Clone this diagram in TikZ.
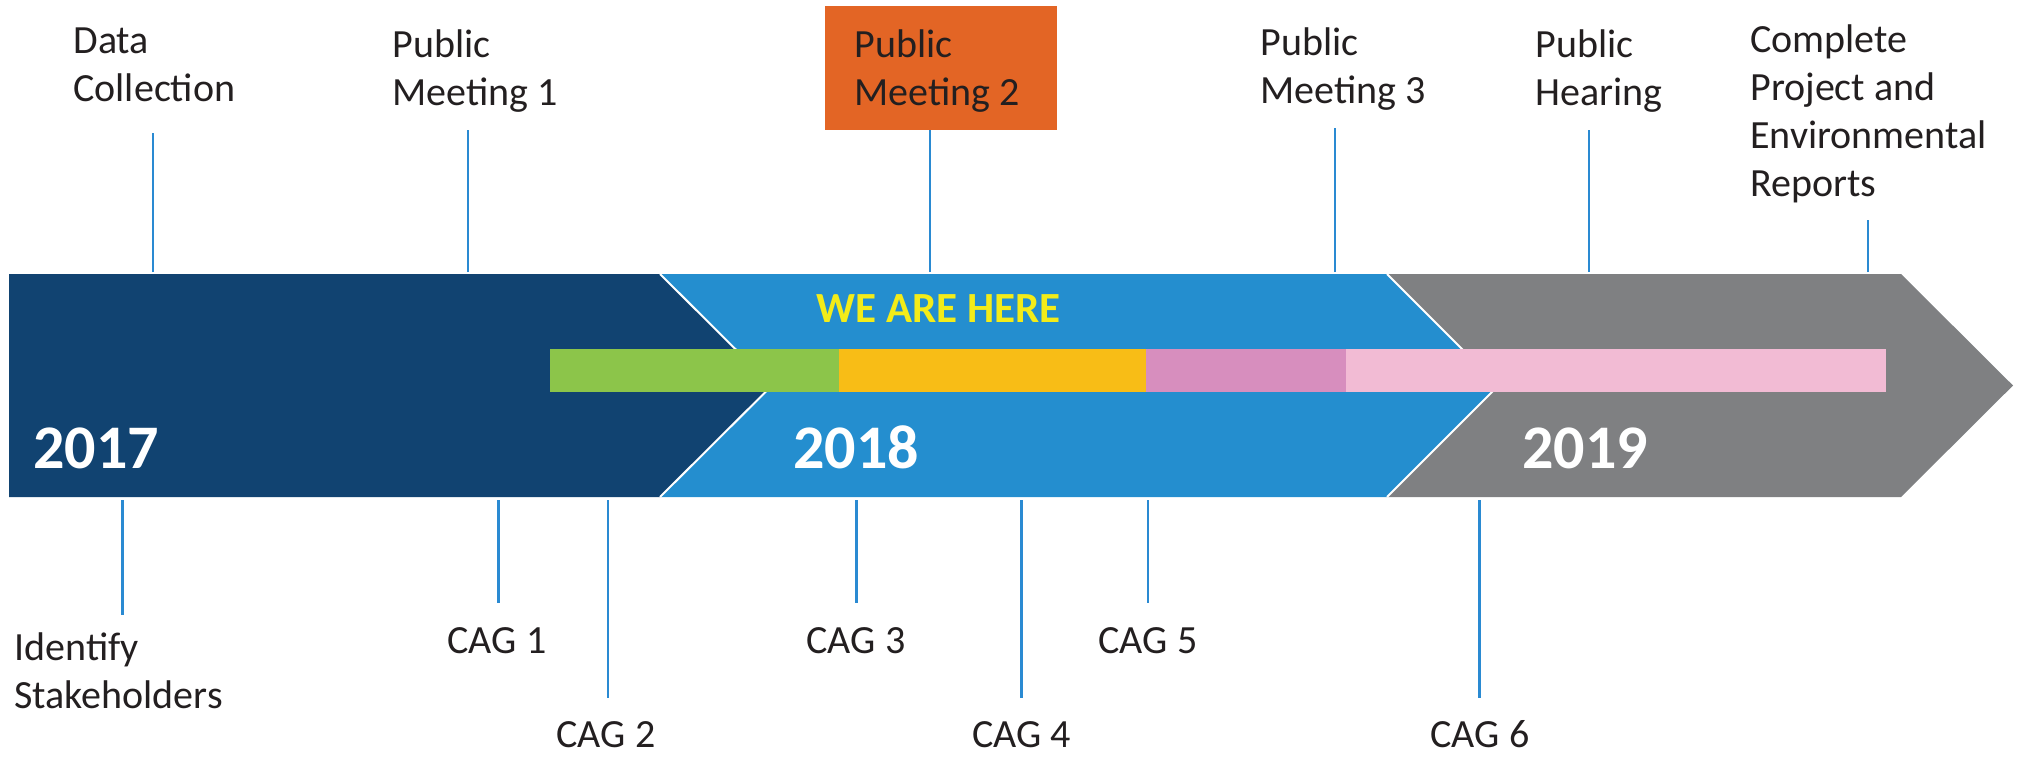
\documentclass[tikz,border=0pt]{standalone}
\usepackage{fontspec}
\setmainfont{Carlito}
\definecolor{darkseg}{HTML}{114371}
\definecolor{midseg}{HTML}{248ECF}
\definecolor{grayseg}{HTML}{7F8082}
\definecolor{bargreen}{HTML}{8CC54A}
\definecolor{barorange}{HTML}{F8BD16}
\definecolor{barmauve}{HTML}{D78EBE}
\definecolor{barpink}{HTML}{F2BBD4}
\definecolor{boxorange}{HTML}{E36525}
\definecolor{hereyellow}{HTML}{F3EC19}
\definecolor{tickblue}{HTML}{2A8AD2}
\definecolor{txt}{HTML}{231F20}
\begin{document}
\begin{tikzpicture}[x=0.5pt,y=-0.5pt,
  lbl/.style={inner sep=0pt, font=\fontsize{20}{24}\selectfont, text=txt},
  yr/.style={inner sep=0pt, font=\fontsize{31}{36}\selectfont\bfseries, text=white, anchor=base west},
  tick/.style={draw=tickblue, line width=1.3pt},
  sep/.style={draw=white, line width=1pt}]
\useasboundingbox (0,0) rectangle (2023,756);
% band segments
\fill[darkseg] (9,274) -- (660,274) -- (772,385.5) -- (660,497) -- (9,497) -- cycle;
\fill[midseg] (660,274) -- (1387,274) -- (1498.5,385.5) -- (1387,497) -- (660,497) -- (772,385.5) -- cycle;
\fill[grayseg] (1387,274) -- (1901,274) -- (2013,385.5) -- (1901,497) -- (1387,497) -- (1498.5,385.5) -- cycle;
\draw[sep] (660,274) -- (772,385.5) -- (660,497);
\draw[sep] (1387,274) -- (1498.5,385.5) -- (1387,497);
% progress bar
\fill[bargreen] (549.5,349) rectangle (838.5,392);
\fill[barorange] (838.5,349) rectangle (1145.5,392);
\fill[barmauve] (1145.5,349) rectangle (1345.5,392);
\fill[barpink] (1345.5,349) rectangle (1886,392);
% year labels
\node[yr] (y17) at (33,468) {2017};
\node[yr] (y18) at (793,468) {2018};
\node[yr] (y19) at (1522,468) {2019};
\node[anchor=base west, inner sep=0pt, font=\fontsize{21.5}{26}\selectfont\bfseries, text=hereyellow] (here) at (816,322.7) {WE ARE HERE};
% top labels
\node[fill=boxorange, draw=none, minimum width=116pt, minimum height=62pt, inner sep=0pt] (pmbox) at (941,68) {};
\node[lbl, anchor=base west] (dc) at (73,53) {\vtop{\hbox{Data}\hbox{Collection}}};
\node[lbl, anchor=base west] (pm1) at (392,57) {\vtop{\hbox{Public}\hbox{Meeting 1}}};
\node[lbl, anchor=base west] (pm2) at (854,57) {\vtop{\hbox{Public}\hbox{Meeting 2}}};
\node[lbl, anchor=base west] (pm3) at (1260,55) {\vtop{\hbox{Public}\hbox{Meeting 3}}};
\node[lbl, anchor=base west] (ph) at (1535,57) {\vtop{\hbox{Public}\hbox{Hearing}}};
\node[lbl, anchor=base west] (cp) at (1750,52) {\vtop{\hbox{Complete}\hbox{Project and}\hbox{Environmental}\hbox{Reports}}};
% top ticks
\coordinate (dcB) at (153,272);  \coordinate (dcT) at (153,133);
\coordinate (pm1B) at (468,272); \coordinate (pm1T) at (468,130);
\coordinate (pm2B) at (930,272);
\coordinate (pm3B) at (1335,272); \coordinate (pm3T) at (1335,128);
\coordinate (phB) at (1589,272); \coordinate (phT) at (1589,130);
\coordinate (cpB) at (1868,272); \coordinate (cpT) at (1868,220);
\draw[tick] (dcB) -- (dcT);
\draw[tick] (pm1B) -- (pm1T);
\draw[tick] (pm2B) -- (pm2B |- pmbox.south);
\draw[tick] (pm3B) -- (pm3T);
\draw[tick] (phB) -- (phT);
\draw[tick] (cpB) -- (cpT);
% bottom labels
\node[lbl, anchor=base west] (is) at (14,660) {\vtop{\hbox{Identify}\hbox{Stakeholders}}};
\node[lbl, anchor=base] (c1) at (497,653) {CAG 1};
\node[lbl, anchor=base] (c2) at (606,747) {CAG 2};
\node[lbl, anchor=base] (c3) at (856,653) {CAG 3};
\node[lbl, anchor=base] (c4) at (1021.5,747) {CAG 4};
\node[lbl, anchor=base] (c5) at (1148,653) {CAG 5};
\node[lbl, anchor=base] (c6) at (1480,747) {CAG 6};
% bottom ticks
\coordinate (isT) at (122.4,500); \coordinate (isB) at (122.4,615);
\coordinate (c1T) at (498.7,500); \coordinate (c1B) at (498.7,603);
\coordinate (c2T) at (607.8,500); \coordinate (c2B) at (607.8,698);
\coordinate (c3T) at (856.5,500); \coordinate (c3B) at (856.5,603);
\coordinate (c4T) at (1021.5,500); \coordinate (c4B) at (1021.5,698);
\coordinate (c5T) at (1148,500); \coordinate (c5B) at (1148,603);
\coordinate (c6T) at (1479.5,500); \coordinate (c6B) at (1479.5,698);
\draw[tick] (isT) -- (isB);
\draw[tick] (c1T) -- (c1B);
\draw[tick] (c2T) -- (c2B);
\draw[tick] (c3T) -- (c3B);
\draw[tick] (c4T) -- (c4B);
\draw[tick] (c5T) -- (c5B);
\draw[tick] (c6T) -- (c6B);
\end{tikzpicture}
\end{document}
